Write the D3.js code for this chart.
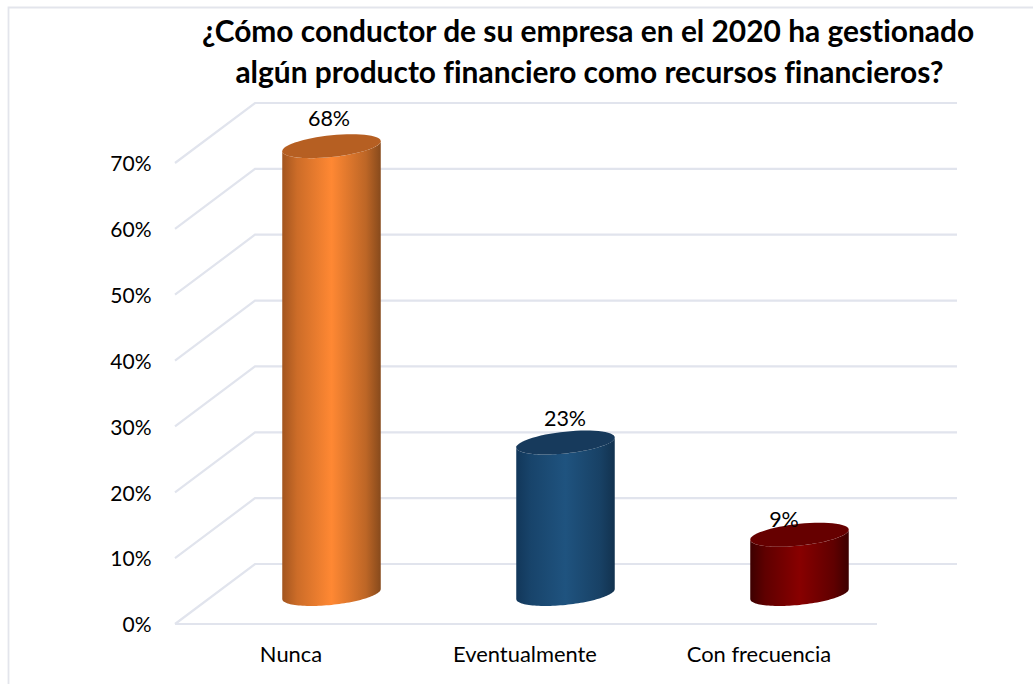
<!DOCTYPE html>
<html><head><meta charset="utf-8">
<script src="https://cdn.jsdelivr.net/npm/d3@7"></script>
<style>html,body{margin:0;padding:0;background:#fff}svg{display:block}text{font-family:Lato,sans-serif;fill:#000;font-variant-ligatures:none}</style>
</head><body><svg id="c" width="1033" height="684"></svg>
<script>
const categories = ["Nunca","Eventualmente","Con frecuencia"];
const values = [68,23,9];
const valueLabels = ["68%","23%","9%"];
const yTicks = [0,10,20,30,40,50,60,70];
const titleLines = ["¿Cómo conductor de su empresa en el 2020 ha gestionado","algún producto financiero como recursos financieros?"];
const colorsMid = ["#ff8833","#1f537f","#880000"];
const colorsEdgeL = ["#a2551f","#12375a","#3d0000"];
const colorsEdgeR = ["#874a1c","#12324f","#3d0000"];
const colorsTop = ["#b65f22","#173a5c","#660000"];
const labelDx = [-3,-1,-16];
const labelDy = [-28,-24,-15];

const svg = d3.select("#c");
const grid = "#e1e4ed";
const depthX = 80, depthY = -60;
const x = d3.scaleBand().domain(categories).range([175,877]).paddingInner(0).paddingOuter(0);
const y = d3.scaleLinear().domain([0,70]).range([624,163]);

// frame
svg.append("path").attr("d","M8.5,684V7.5H1033").attr("fill","none").attr("stroke","#e3e5ec").attr("stroke-width",1.8);

// walls
const g = svg.append("g").attr("fill","none").attr("stroke",grid).attr("stroke-width",2.2);
yTicks.forEach(t=>{
  g.append("path").attr("d",d3.line()([[x.range()[0],y(t)],[x.range()[0]+depthX,y(t)+depthY],[x.range()[1]+depthX,y(t)+depthY]]));
});
g.append("line").attr("x1",x.range()[0]).attr("x2",x.range()[1]).attr("y1",y(0)).attr("y2",y(0));

// tick labels
svg.append("g").selectAll("text").data(yTicks).join("text")
  .attr("x",151.5).attr("y",d=>y(d)+0.7).attr("dy","0.36em").attr("text-anchor","end")
  .attr("font-size",21).text(d=>d+"%");

// category labels
svg.append("g").selectAll("text").data(categories).join("text")
  .attr("x",d=>x(d)+x.bandwidth()/2-1).attr("y",654.5).attr("dy","0.36em").attr("text-anchor","middle")
  .attr("font-size",21.9).text(d=>d);

// cylinders
const defs = svg.append("defs");
const barW = 98.5, ry = 10.9, shear = 5/49.25;
const ell = (cx,cy,a,b)=>d3.range(a,b+(b>a?0.001:-0.001),(b-a)/60).map(t=>[cx+barW/2*Math.cos(t)-0.5, cy+ry*Math.sin(t)-shear*barW/2*Math.cos(t)]);
const line = d3.line();
categories.forEach((c,i)=>{
  const id="g"+i;
  const gr=defs.append("linearGradient").attr("id",id).attr("x1",0).attr("x2",1).attr("y1",0).attr("y2",0);
  const mixL=d3.interpolateRgb(colorsEdgeL[i],colorsMid[i])(0.45), mixR=d3.interpolateRgb(colorsEdgeR[i],colorsMid[i])(0.45);
  [[0,colorsEdgeL[i]],[.15,mixL],[.5,colorsMid[i]],[.85,mixR],[1,colorsEdgeR[i]]].forEach(s=>gr.append("stop").attr("offset",s[0]).attr("stop-color",s[1]));
  const cx=x(c)+x.bandwidth()/2+depthX/2;
  const yBase=y(0)+depthY/2, yTop=y(values[i])+depthY/2;
  const body=[...ell(cx,yTop,Math.PI,0),...ell(cx,yBase,0,Math.PI)];
  svg.append("path").attr("d",line(body)+"Z").attr("fill",`url(#${id})`);
  svg.append("path").attr("d",line(ell(cx,yTop,0,2*Math.PI))+"Z").attr("fill",colorsTop[i]);
  svg.append("text").attr("x",cx+labelDx[i]).attr("y",yTop+labelDy[i]).attr("dy","0.36em").attr("text-anchor","middle").attr("font-size",21.5).text(valueLabels[i]);
});

// title
svg.append("g").selectAll("text").data(titleLines).join("text")
  .attr("x",(d,i)=>i?589.5:588).attr("y",(d,i)=>i?83:42).attr("text-anchor","middle")
  .attr("font-size",29.9).attr("font-weight",700).text(d=>d);
</script></body></html>
